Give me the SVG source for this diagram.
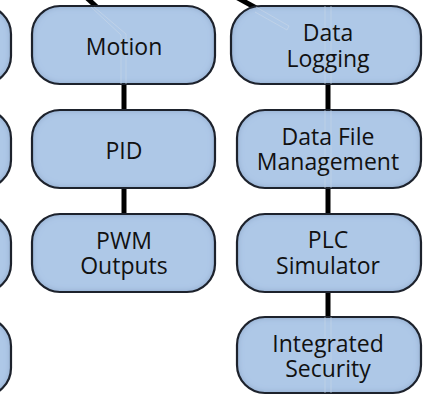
<svg xmlns="http://www.w3.org/2000/svg" width="423" height="395" viewBox="0 0 423 395">
<defs>
<filter id="inner" x="-5%" y="-5%" width="110%" height="110%">
<feGaussianBlur in="SourceAlpha" stdDeviation="3" result="b"/>
<feComposite in="SourceAlpha" in2="b" operator="out" result="ring"/>
<feFlood flood-color="#4f6f9f" flood-opacity="0.6"/>
<feComposite in2="ring" operator="in" result="sh"/>
<feMerge><feMergeNode in="SourceGraphic"/><feMergeNode in="sh"/></feMerge>
</filter>
</defs>
<style>
.box{fill:#aec8e7;}
.edge{fill:none;stroke:#1d222c;stroke-width:2.2;}
.lbl{font-family:"Open Sans","Noto Sans",sans-serif;font-size:23px;fill:#111;text-anchor:middle;}
.con{stroke:#000;stroke-width:5;fill:none;}
.ghost{stroke:#c8d6e8;stroke-width:0.8;fill:none;opacity:0.8;}
</style>
<g id="connectors">
<line class="con" x1="87" y1="-2" x2="100" y2="10"/>
<line class="con" x1="124" y1="82" x2="124" y2="112"/>
<line class="con" x1="124" y1="186" x2="124" y2="216"/>
<line class="con" x1="236" y1="-3" x2="258" y2="9"/>
<line class="con" x1="328" y1="82" x2="328" y2="112"/>
<line class="con" x1="328" y1="186" x2="328" y2="216"/>
<line class="con" x1="328" y1="290" x2="328" y2="319"/>
</g>
<g id="left1"><rect class="box" x="-172" y="6" width="183" height="78" rx="28" filter="url(#inner)"/><rect class="edge" x="-172" y="6" width="183" height="78" rx="28"/></g>
<g id="left2"><rect class="box" x="-172" y="110" width="183" height="78" rx="28" filter="url(#inner)"/><rect class="edge" x="-172" y="110" width="183" height="78" rx="28"/></g>
<g id="left3"><rect class="box" x="-172" y="214" width="183" height="78" rx="28" filter="url(#inner)"/><rect class="edge" x="-172" y="214" width="183" height="78" rx="28"/></g>
<g id="left4"><rect class="box" x="-172" y="318" width="183" height="78" rx="28" filter="url(#inner)"/><rect class="edge" x="-172" y="318" width="183" height="78" rx="28"/></g>
<g id="motion"><rect class="box" x="32" y="6" width="183" height="78" rx="28" filter="url(#inner)"/><rect class="edge" x="32" y="6" width="183" height="78" rx="28"/>
<path class="ghost" d="M91 7 L121 35 L121 84 M94 7 L126 34 L126 84"/>
<text class="lbl" x="124" y="55">Motion</text></g>
<g id="pid"><rect class="box" x="32" y="110" width="183" height="78" rx="28" filter="url(#inner)"/><rect class="edge" x="32" y="110" width="183" height="78" rx="28"/>
<text class="lbl" x="124" y="159">PID</text></g>
<g id="pwm"><rect class="box" x="32" y="214" width="183" height="78" rx="28" filter="url(#inner)"/><rect class="edge" x="32" y="214" width="183" height="78" rx="28"/>
<text class="lbl" x="124" y="249">PWM</text><text class="lbl" x="124" y="274">Outputs</text></g>
<g id="datalogging"><rect class="box" x="231" y="6" width="190" height="78" rx="30" filter="url(#inner)"/><rect class="edge" x="231" y="6" width="190" height="78" rx="30"/>
<path class="ghost" d="M256 7 L289 26 L287 30 L255 12 M325 6 L325 84 M331 6 L331 84"/>
<text class="lbl" x="328" y="41">Data</text><text class="lbl" x="328" y="67">Logging</text></g>
<g id="datafile"><rect class="box" x="237" y="110" width="184" height="78" rx="28" filter="url(#inner)"/><rect class="edge" x="237" y="110" width="184" height="78" rx="28"/>
<path class="ghost" d="M325 110 L325 188 M331 110 L331 188"/>
<text class="lbl" x="328" y="145">Data File</text><text class="lbl" x="328" y="170">Management</text></g>
<g id="plc"><rect class="box" x="237" y="214" width="184" height="78" rx="28" filter="url(#inner)"/><rect class="edge" x="237" y="214" width="184" height="78" rx="28"/>
<text class="lbl" x="328" y="248">PLC</text><text class="lbl" x="328" y="274">Simulator</text></g>
<g id="security"><rect class="box" x="237" y="317" width="184" height="76" rx="28" filter="url(#inner)"/><rect class="edge" x="237" y="317" width="184" height="76" rx="28"/>
<path class="ghost" d="M325 317 L325 393 M331 317 L331 393"/>
<text class="lbl" x="328" y="352">Integrated</text><text class="lbl" x="328" y="377">Security</text></g>
</svg>
